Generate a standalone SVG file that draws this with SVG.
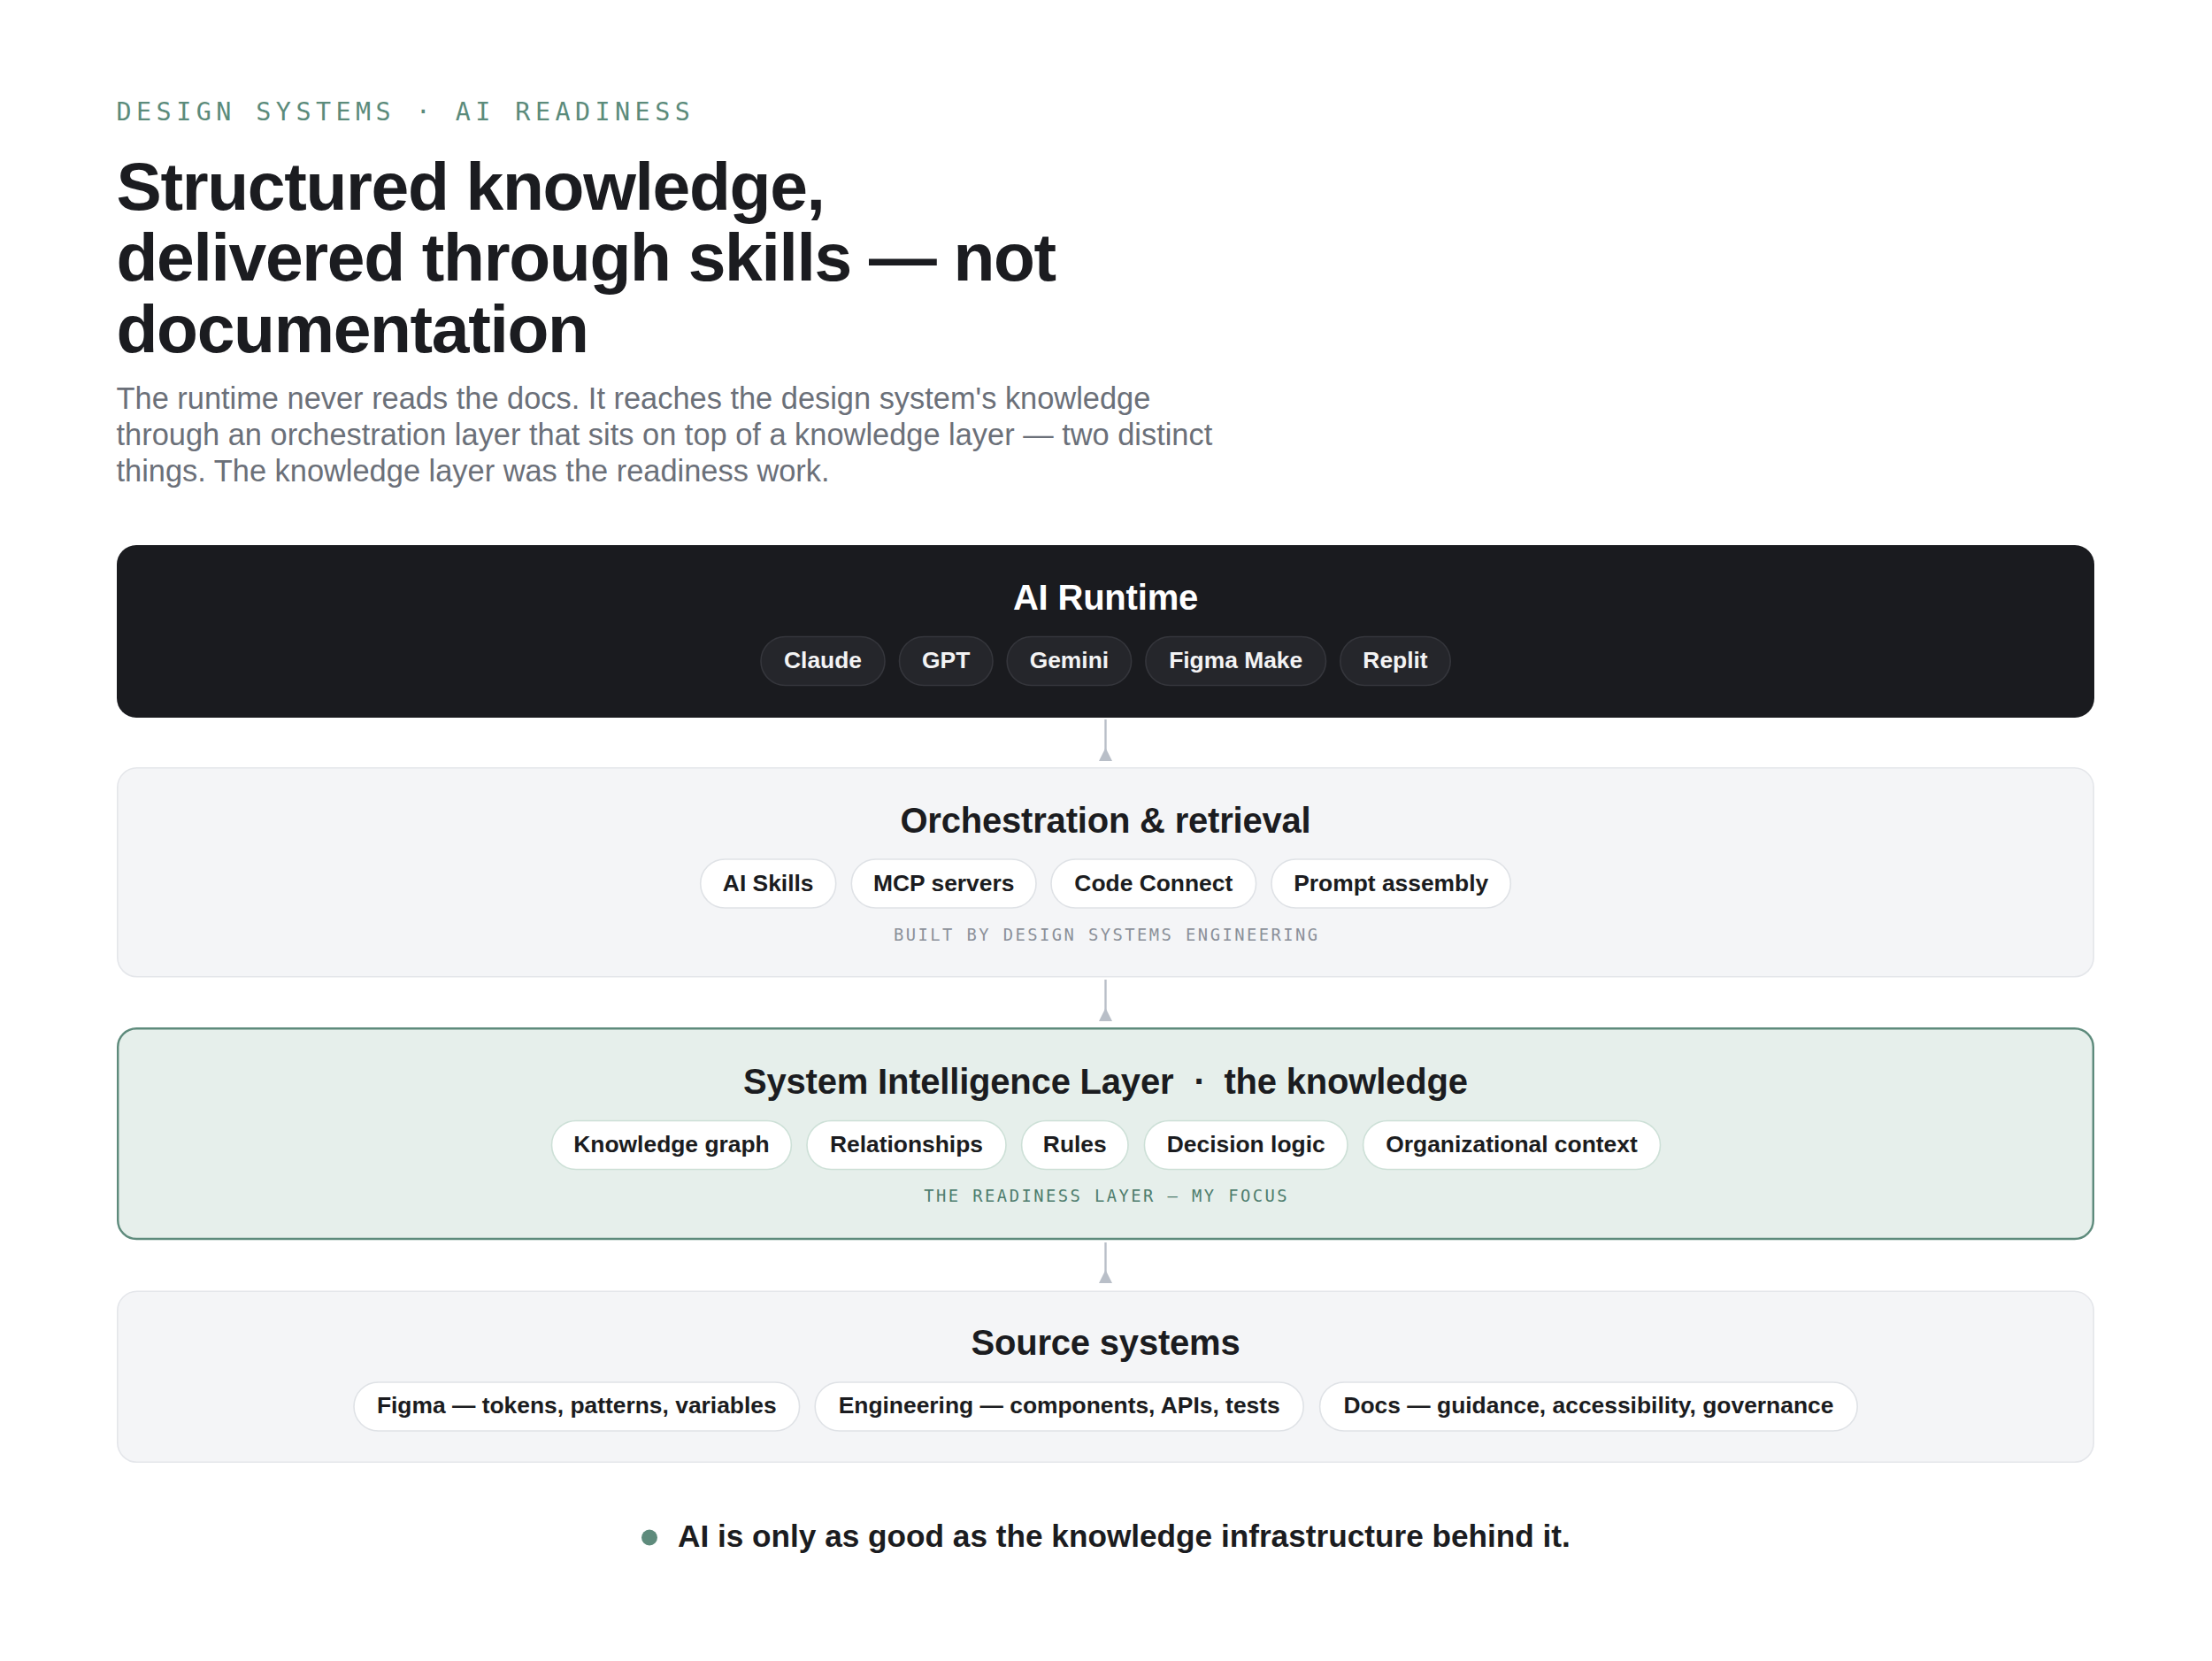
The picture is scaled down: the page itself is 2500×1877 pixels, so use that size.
<svg xmlns="http://www.w3.org/2000/svg" width="2500" height="1877" viewBox="0 0 2500 1877">
<style>
.sans{font-family:"Liberation Sans",Arial,sans-serif}
.mono{font-family:"DejaVu Sans Mono","Liberation Mono",monospace}
.eyebrow{font-size:28.4px;letter-spacing:5.45px;fill:#5b8b7b}
.h1{font-size:76.8px;font-weight:700;letter-spacing:-1.32px;fill:#1b1c20}
.lead{font-size:34.4px;fill:#6b7079}
.ltitle{font-size:40px;font-weight:700;letter-spacing:-0.2px;fill:#1b1c20;text-anchor:middle}
.ptext{font-size:26.4px;font-weight:700;fill:#1b1c20;text-anchor:middle}
.cap{font-size:18.8px;letter-spacing:2.45px;text-anchor:middle}
.pill-dark{fill:#25262b;stroke:#35363c;stroke-width:1.6}
.pill-gray{fill:#ffffff;stroke:#dfe2e6;stroke-width:1.6}
.pill-green{fill:#ffffff;stroke:#cde0d7;stroke-width:1.6}
.box-gray{fill:#f4f5f7;stroke:#e4e6ea;stroke-width:1.6}
.conn line{stroke:#b9bfc8;stroke-width:2.4}
.conn polygon{fill:#b9bfc8}
</style>
<rect width="2500" height="1877" fill="#ffffff"/>

<g id="header">
<text class="mono eyebrow" x="131.5" y="136">DESIGN SYSTEMS · AI READINESS</text>
<text class="sans h1" x="131.5" y="236.5">Structured knowledge,</text>
<text class="sans h1" x="131.5" y="317">delivered through skills — not</text>
<text class="sans h1" x="131.5" y="397.5">documentation</text>
<text class="sans lead" x="131.5" y="461.7">The runtime never reads the docs. It reaches the design system's knowledge</text>
<text class="sans lead" x="131.5" y="502.7">through an orchestration layer that sits on top of a knowledge layer — two distinct</text>
<text class="sans lead" x="131.5" y="543.5">things. The knowledge layer was the readiness work.</text>
</g>

<g id="connectors" class="conn">
<line x1="1249.5" y1="813" x2="1249.5" y2="848"/>
<polygon points="1242,860 1257,860 1249.5,845"/>
<line x1="1249.5" y1="1107" x2="1249.5" y2="1142"/>
<polygon points="1242,1154 1257,1154 1249.5,1139"/>
<line x1="1249.5" y1="1404" x2="1249.5" y2="1438"/>
<polygon points="1242,1450 1257,1450 1249.5,1435"/>
</g>

<g id="ai-runtime">
<rect x="132" y="616" width="2235" height="195" rx="22" fill="#1a1b1f"/>
<text class="sans ltitle" x="1249.5" y="689" style="fill:#ffffff">AI Runtime</text>
<g class="sans">
<rect class="pill-dark" x="860" y="719.5" width="140" height="55" rx="27.5"/>
<text class="ptext" x="930" y="755" style="fill:#f3f3f4">Claude</text>
<rect class="pill-dark" x="1016.5" y="719.5" width="105.5" height="55" rx="27.5"/>
<text class="ptext" x="1069.2" y="755" style="fill:#f3f3f4">GPT</text>
<rect class="pill-dark" x="1138.2" y="719.5" width="140.4" height="55" rx="27.5"/>
<text class="ptext" x="1208.4" y="755" style="fill:#f3f3f4">Gemini</text>
<rect class="pill-dark" x="1294.9" y="719.5" width="203.6" height="55" rx="27.5"/>
<text class="ptext" x="1396.7" y="755" style="fill:#f3f3f4">Figma Make</text>
<rect class="pill-dark" x="1514.8" y="719.5" width="124.4" height="55" rx="27.5"/>
<text class="ptext" x="1577" y="755" style="fill:#f3f3f4">Replit</text>
</g>
</g>

<g id="orchestration">
<rect class="box-gray" x="132.8" y="867.8" width="2233.4" height="236" rx="22"/>
<text class="sans ltitle" x="1249.5" y="941">Orchestration &amp; retrieval</text>
<g class="sans">
<rect class="pill-gray" x="791.7" y="971" width="153" height="55" rx="27.5"/>
<text class="ptext" x="868.2" y="1006.7">AI Skills</text>
<rect class="pill-gray" x="962.3" y="971" width="208.7" height="55" rx="27.5"/>
<text class="ptext" x="1066.7" y="1006.7">MCP servers</text>
<rect class="pill-gray" x="1188" y="971" width="231.6" height="55" rx="27.5"/>
<text class="ptext" x="1303.8" y="1006.7">Code Connect</text>
<rect class="pill-gray" x="1437" y="971" width="270.3" height="55" rx="27.5"/>
<text class="ptext" x="1572.2" y="1006.7">Prompt assembly</text>
</g>
<text class="mono cap" x="1250.7" y="1062.7" style="fill:#8b9099">BUILT BY DESIGN SYSTEMS ENGINEERING</text>
</g>

<g id="system-intelligence">
<rect x="133.2" y="1162.2" width="2232.6" height="237.8" rx="21" fill="#e6efeb" stroke="#5e8b7c" stroke-width="2.4"/>
<text class="sans ltitle" y="1236" style="text-anchor:start"><tspan x="840">System Intelligence Layer</tspan><tspan x="1349.5">·</tspan><tspan x="1383.5">the knowledge</tspan></text>
<g class="sans">
<rect class="pill-green" x="623.5" y="1266.5" width="270.9" height="55" rx="27.5"/>
<text class="ptext" x="759" y="1302">Knowledge graph</text>
<rect class="pill-green" x="912" y="1266.5" width="225" height="55" rx="27.5"/>
<text class="ptext" x="1024.5" y="1302">Relationships</text>
<rect class="pill-green" x="1154.6" y="1266.5" width="120.4" height="55" rx="27.5"/>
<text class="ptext" x="1214.8" y="1302">Rules</text>
<rect class="pill-green" x="1293.4" y="1266.5" width="229.6" height="55" rx="27.5"/>
<text class="ptext" x="1408.2" y="1302">Decision logic</text>
<rect class="pill-green" x="1540.6" y="1266.5" width="335.9" height="55" rx="27.5"/>
<text class="ptext" x="1708.5" y="1302">Organizational context</text>
</g>
<text class="mono cap" x="1250.7" y="1358" style="fill:#4e7d6d">THE READINESS LAYER — MY FOCUS</text>
</g>

<g id="source-systems">
<rect class="box-gray" x="132.8" y="1459.3" width="2233.4" height="193" rx="22"/>
<text class="sans ltitle" x="1249.5" y="1531">Source systems</text>
<g class="sans">
<rect class="pill-gray" x="400" y="1562" width="503.6" height="55" rx="27.5"/>
<text class="ptext" x="651.8" y="1596.5">Figma — tokens, patterns, variables</text>
<rect class="pill-gray" x="921.2" y="1562" width="552" height="55" rx="27.5"/>
<text class="ptext" x="1197.2" y="1596.5">Engineering — components, APIs, tests</text>
<rect class="pill-gray" x="1491.6" y="1562" width="607.6" height="55" rx="27.5"/>
<text class="ptext" x="1795.4" y="1596.5">Docs — guidance, accessibility, governance</text>
</g>
</g>

<g id="takeaway">
<circle cx="734" cy="1737.5" r="9" fill="#5e8b7c"/>
<text class="sans" x="766" y="1748.3" style="font-size:35.2px;font-weight:700;fill:#1b1c20">AI is only as good as the knowledge infrastructure behind it.</text>
</g>
</svg>
